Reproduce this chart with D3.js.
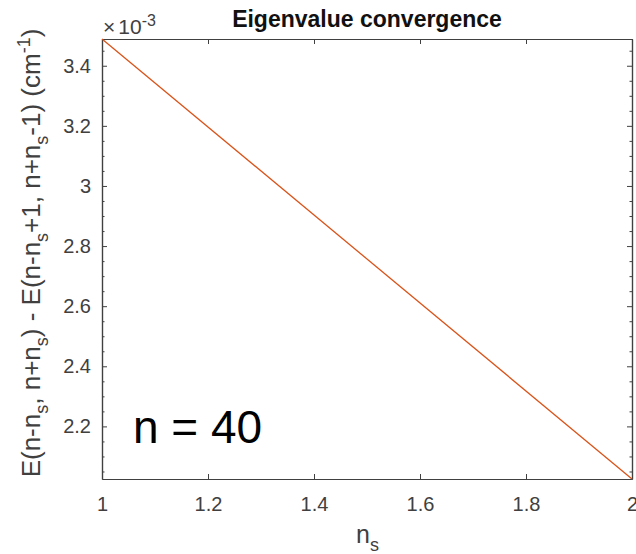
<!DOCTYPE html>
<html>
<head>
<meta charset="utf-8">
<script src="https://cdn.jsdelivr.net/npm/d3@7"></script>
<style>
  html, body { margin: 0; padding: 0; background: #fff; }
  svg { display: block; font-family: "Liberation Sans", Arial, sans-serif; }
</style>
</head>
<body>
<svg id="chart" width="636" height="554"></svg>
<script>
// Splitting sizes n_s and the eigenvalue gap (cm^-1)
const nsValues = [1, 2];
const gapValues = [3.489e-3, 2.025e-3];

// Axis ticks (y ticks in units of 10^-3 cm^-1)
const xTicks = [1, 1.2, 1.4, 1.6, 1.8, 2];
const yTicks = [2.2, 2.4, 2.6, 2.8, 3.0, 3.2, 3.4];
const yMinorTicks = [2.05, 2.1, 2.15, 2.25, 2.3, 2.35, 2.45, 2.5, 2.55, 2.65, 2.7, 2.75,
                     2.85, 2.9, 2.95, 3.05, 3.1, 3.15, 3.25, 3.3, 3.35, 3.45];
const yExponent = -3;

const box = { left: 102, right: 632, top: 39, bottom: 479 };
const axisColor = "#404040";
const textColor = "#404040";

const svg = d3.select("#chart");

const x = d3.scaleLinear().domain(d3.extent(nsValues)).range([box.left, box.right]);
const y = d3.scaleLinear().domain(d3.extent(gapValues)).range([box.bottom, box.top]);

const scaleExp = Math.pow(10, yExponent);
const yFmt = d => d3.format("~g")(d);

function styleAxis(g) {
  g.selectAll("path.domain").attr("stroke", axisColor).attr("stroke-width", 1.2);
  g.selectAll(".tick line").attr("stroke", axisColor).attr("stroke-width", 1);
  g.selectAll(".tick text").attr("fill", textColor).style("font-size", "20px")
    .style("font-family", "'Liberation Sans', Arial, sans-serif");
}

// bottom axis with labels
svg.append("g").attr("transform", `translate(0,${box.bottom})`)
  .call(d3.axisBottom(x).tickValues(xTicks).tickSizeInner(-5).tickSizeOuter(0)
    .tickPadding(18).tickFormat(d3.format("~g")))
  .call(styleAxis);

// top axis (ticks only)
svg.append("g").attr("transform", `translate(0,${box.top})`)
  .call(d3.axisTop(x).tickValues(xTicks).tickSizeInner(-5).tickSizeOuter(0).tickFormat(""))
  .call(styleAxis);

// left axis with labels
svg.append("g").attr("transform", `translate(${box.left},0)`)
  .call(d3.axisLeft(y).tickValues(yTicks.map(v => v * scaleExp)).tickSizeInner(-5)
    .tickSizeOuter(0).tickPadding(11).tickFormat(d => yFmt(+(d / scaleExp).toFixed(3))))
  .call(styleAxis);

// right axis (ticks only)
svg.append("g").attr("transform", `translate(${box.right},0)`)
  .call(d3.axisRight(y).tickValues(yTicks.map(v => v * scaleExp)).tickSizeInner(-5)
    .tickSizeOuter(0).tickFormat(""))
  .call(styleAxis);

// minor ticks on left and right
svg.append("g").attr("transform", `translate(${box.left},0)`)
  .call(d3.axisLeft(y).tickValues(yMinorTicks.map(v => v * scaleExp)).tickSizeInner(-2.5)
    .tickSizeOuter(0).tickFormat(""))
  .call(styleAxis);
svg.append("g").attr("transform", `translate(${box.right},0)`)
  .call(d3.axisRight(y).tickValues(yMinorTicks.map(v => v * scaleExp)).tickSizeInner(-2.5)
    .tickSizeOuter(0).tickFormat(""))
  .call(styleAxis);

// data line
const line = d3.line().x((d, i) => x(nsValues[i])).y(d => y(d));
svg.append("path").datum(gapValues)
  .attr("d", line)
  .attr("fill", "none")
  .attr("stroke", "#D95319")
  .attr("stroke-width", 1.3);

// exponent label
const expLabel = svg.append("text")
  .attr("x", box.left + 1).attr("y", 34)
  .attr("fill", textColor).style("font-size", "21px");
expLabel.append("tspan").text("\u00d7");
expLabel.append("tspan").attr("dx", 3).text("10");
expLabel.append("tspan").attr("dy", -8).style("font-size", "16px").text(String(yExponent));

// title
svg.append("text")
  .attr("x", (box.left + box.right) / 2).attr("y", 27)
  .attr("text-anchor", "middle")
  .style("font-size", "23px").style("font-weight", "bold")
  .attr("fill", "#111")
  .text("Eigenvalue convergence");

// x axis label
const xl = svg.append("text")
  .attr("x", 356).attr("y", 543)
  .attr("fill", textColor).style("font-size", "25px");
xl.append("tspan").text("n");
xl.append("tspan").attr("dy", 8).style("font-size", "18px").text("s");

// y axis label
const yl = svg.append("text")
  .attr("transform", `translate(40,253) rotate(-90)`)
  .attr("text-anchor", "middle")
  .attr("fill", textColor).style("font-size", "26px");
const parts = [
  ["E(n-n", 0], ["s", 1], [", n+n", 0], ["s", 1], [") - E(n-n", 0], ["s", 1],
  ["+1, n+n", 0], ["s", 1], ["-1) (cm", 0], ["-1", 2], [")", 0]
];
let level = 0;
parts.forEach(([t, kind]) => {
  const target = kind === 1 ? 8 : kind === 2 ? -10 : 0;
  const sp = yl.append("tspan").attr("dy", target - level).text(t);
  if (kind) sp.style("font-size", "18px");
  level = target;
});

// annotation
svg.append("text")
  .attr("x", 133).attr("y", 443)
  .attr("fill", "#000").style("font-size", "46px")
  .text("n = 40");
</script>
</body>
</html>
